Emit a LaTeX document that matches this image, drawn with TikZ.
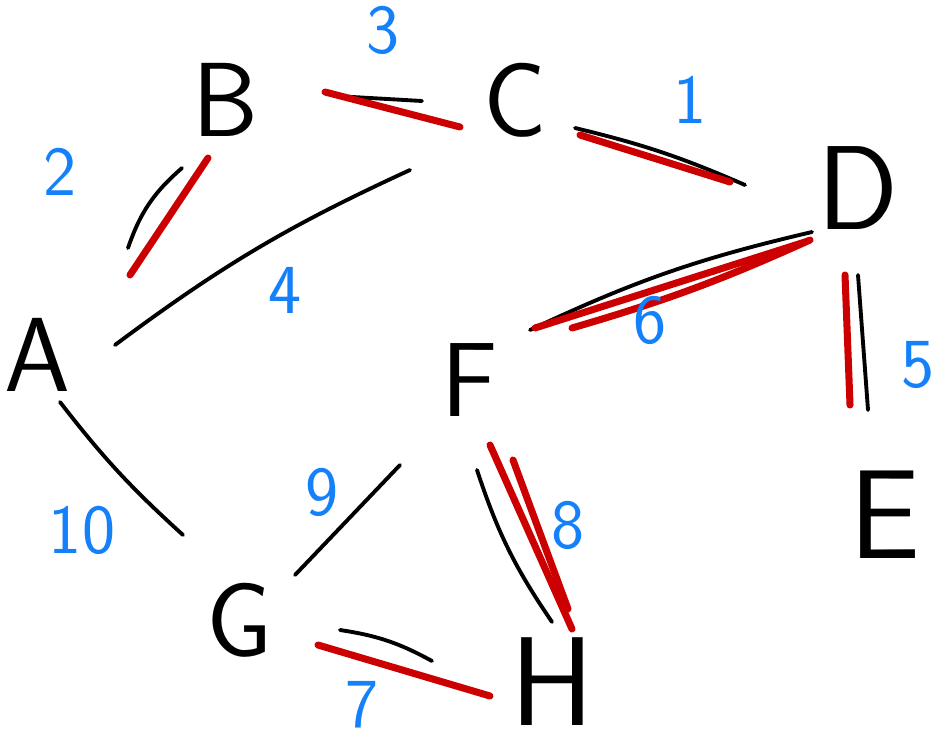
\documentclass[tikz,border=0pt]{standalone}
\usepackage{tikz}
\definecolor{mstred}{RGB}{204,0,0}
\definecolor{weightblue}{RGB}{20,128,250}

\begin{document}
\begin{tikzpicture}[
    vertex/.style={font=\sffamily\fontsize{30}{30}\selectfont, inner sep=0pt},
    big/.style={font=\sffamily\fontsize{36}{36}\selectfont},
    edge/.style={line width=1.1pt, line cap=round},
    mst/.style={mstred, line width=2pt, line cap=round},
    weight/.style={weightblue, font=\sffamily\fontsize{20}{20}\selectfont}]
  \useasboundingbox (0,0) rectangle (9.5,-7.48);

  % vertices
  \node[vertex] (A) at (0.37,-3.55) {A};
  \node[vertex] (B) at (2.25,-1.00) {B};
  \node[vertex] (C) at (5.15,-1.00) {C};
  \node[vertex, font=\sffamily\fontsize{34}{34}\selectfont] (D) at (8.58,-1.88) {D};
  \node[vertex, big] (E) at (8.85,-5.15) {E};
  \node[vertex] (F) at (4.70,-3.80) {F};
  \node[vertex] (G) at (2.40,-6.20) {G};
  \node[vertex, big] (H) at (5.52,-6.82) {H};

  % edges
  \draw[edge] ([shift={(0.91,1.07)}]A.center) to[bend left=15] ([shift={(-0.43,-0.68)}]B.center);
  \draw[edge] ([shift={(1.10,0.04)}]B.center) -- ([shift={(-0.93,-0.01)}]C.center);
  \draw[edge] ([shift={(0.60,-0.28)}]C.center) to[bend left=5] ([shift={(-1.13,0.03)}]D.center);
  \draw[edge] ([shift={(0.78,0.10)}]A.center) to[bend left=6] ([shift={(-1.05,-0.70)}]C.center);
  \draw[edge] ([shift={(-0.46,-0.44)}]D.center) to[bend right=6] ([shift={(0.60,0.50)}]F.center);
  \draw[edge] ([shift={(0.00,-0.87)}]D.center) -- ([shift={(-0.17,1.05)}]E.center);
  \draw[edge] ([shift={(0.23,-0.47)}]A.center) to[bend right=5] ([shift={(-0.57,0.85)}]G.center);
  \draw[edge] ([shift={(-0.70,-0.85)}]F.center) -- ([shift={(0.55,0.45)}]G.center);
  \draw[edge] ([shift={(0.07,-0.90)}]F.center) to[bend right=8] ([shift={(0.00,0.60)}]H.center);
  \draw[edge] ([shift={(1.00,-0.10)}]G.center) to[bend left=10] ([shift={(-1.20,0.21)}]H.center);

  % spanning tree
  \draw[mst] ([shift={(0.93,0.80)}]A.center) -- ([shift={(-0.17,-0.58)}]B.center);
  \draw[mst] ([shift={(1.00,0.08)}]B.center) -- ([shift={(-0.55,-0.27)}]C.center);
  \draw[mst] ([shift={(0.65,-0.35)}]C.center) -- ([shift={(-1.28,0.06)}]D.center);
  \draw[mst] ([shift={(-0.53,-0.54)}]D.center) -- ([shift={(0.65,0.52)}]F.center);
  \draw[mst] ([shift={(-0.48,-0.52)}]D.center) to[bend left=4] ([shift={(1.02,0.52)}]F.center);
  \draw[mst] ([shift={(-0.13,-0.87)}]D.center) -- ([shift={(-0.35,1.10)}]E.center);
  \draw[mst] ([shift={(0.20,-0.65)}]F.center) -- ([shift={(0.20,0.53)}]H.center);
  \draw[mst] ([shift={(0.43,-0.80)}]F.center) -- ([shift={(0.16,0.73)}]H.center);
  \draw[mst] ([shift={(0.78,-0.25)}]G.center) -- ([shift={(-0.62,-0.14)}]H.center);

  % weights
  \node[weight] (wCD) at (6.90,-1.00) {1};
  \node[weight] (wAB) at (0.60,-1.72) {2};
  \node[weight] (wBC) at (3.83,-0.30) {3};
  \node[weight] (wAC) at (2.85,-2.90) {4};
  \node[weight] (wDE) at (9.18,-3.65) {5};
  \node[weight] (wDF) at (6.50,-3.20) {6};
  \node[weight] (wGH) at (3.62,-7.05) {7};
  \node[weight] (wFH) at (5.68,-5.25) {8};
  \node[weight] (wFG) at (3.22,-4.92) {9};
  \node[weight] (wAG) at (0.82,-5.30) {10};
\end{tikzpicture}
\end{document}
